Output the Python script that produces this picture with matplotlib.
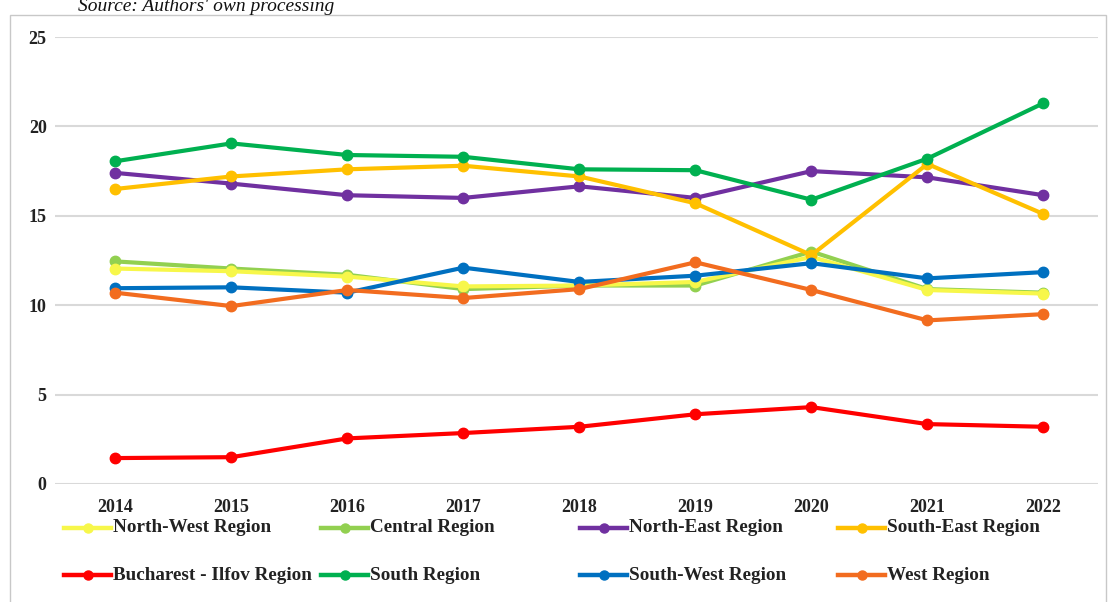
import matplotlib.pyplot as plt
from matplotlib.lines import Line2D
from matplotlib.patches import Rectangle

plt.rcParams['font.family'] = ['Liberation Serif', 'DejaVu Serif']

# Data
years = ['2014', '2015', '2016', '2017', '2018', '2019', '2020', '2021', '2022']

north_west = [12.05, 11.9, 11.6, 11.05, 11.1, 11.3, 12.7, 10.85, 10.65]
central = [12.45, 12.05, 11.7, 10.9, 11.1, 11.1, 13.0, 10.9, 10.7]
north_east = [17.4, 16.8, 16.15, 16.0, 16.65, 16.0, 17.5, 17.15, 16.15]
south_east = [16.5, 17.2, 17.6, 17.8, 17.2, 15.7, 12.8, 17.9, 15.1]
bucharest_ilfov = [1.45, 1.5, 2.55, 2.85, 3.2, 3.9, 4.3, 3.35, 3.2]
south = [18.05, 19.05, 18.4, 18.3, 17.6, 17.55, 15.9, 18.2, 21.3]
south_west = [10.95, 11.0, 10.7, 12.1, 11.3, 11.65, 12.35, 11.5, 11.85]
west = [10.7, 9.95, 10.85, 10.4, 10.9, 12.4, 10.85, 9.15, 9.5]

series = [
    ('North-West Region', north_west, '#F7F74A'),
    ('Central Region', central, '#92D050'),
    ('North-East Region', north_east, '#7030A0'),
    ('South-East Region', south_east, '#FFC000'),
    ('Bucharest - Ilfov Region', bucharest_ilfov, '#FF0000'),
    ('South Region', south, '#00B050'),
    ('South-West Region', south_west, '#0070C0'),
    ('West Region', west, '#F26C1F'),
]

W, H = 1110, 602
fig = plt.figure(figsize=(W / 100, H / 100), dpi=100)
ax = fig.add_axes([55 / W, 1 - 484 / H, (1098 - 55) / W, (484 - 37) / H])

x = list(range(len(years)))
# central drawn under north-west where they overlap at the end
zorders = {'Central Region': 2, 'North-West Region': 3}
for name, vals, color in series:
    ax.plot(x, vals, color=color, lw=3, marker='o', ms=7.5,
            zorder=zorders.get(name, 4), solid_capstyle='round')

ax.set_xlim(-0.52, 8.47)
ax.set_ylim(0, 25)
ax.set_yticks([0, 5, 10, 15, 20, 25])
ax.set_xticks(x)
ax.set_xticklabels(years)
ax.grid(axis='y', color='#D9D9D9', lw=1.5)
ax.set_axisbelow(True)
for s in ax.spines.values():
    s.set_visible(False)
ax.tick_params(axis='both', length=0, labelsize=13, labelcolor='#222222')
ax.tick_params(axis='x', pad=11)
ax.tick_params(axis='y', pad=6)
for lab in ax.get_xticklabels() + ax.get_yticklabels():
    lab.set_fontweight('bold')

# legend: four equal-width columns, two rows
col_x = [64, 321, 580, 838]
row_y = [528, 575]
for i, (name, vals, color) in enumerate(series):
    cx = col_x[i % 4]
    ry = row_y[i // 4]
    fx0, fx1 = cx / W, (cx + 47) / W
    fy = 1 - ry / H
    fig.add_artist(Line2D([fx0, fx1], [fy, fy], color=color, lw=3.2,
                          transform=fig.transFigure))
    fig.add_artist(Line2D([(fx0 + fx1) / 2], [fy], color=color, marker='o', ms=6.5,
                          transform=fig.transFigure))
    fig.text((cx + 49) / W, fy, name, fontsize=13.8, fontweight='bold',
             color='#222222', va='center', ha='left')

# chart area border
fig.add_artist(Rectangle((10 / W, -0.05), (1106 - 10) / W, 1 - 15 / H + 0.05,
                         transform=fig.transFigure, fill=False,
                         edgecolor='#C8C8C8', lw=1))

fig.text(78 / W, 1 - 11 / H, "Source: Authors' own processing", fontsize=14,
         style='italic', va='baseline', ha='left', color='#111111')

fig.savefig('out.png', dpi=100)
